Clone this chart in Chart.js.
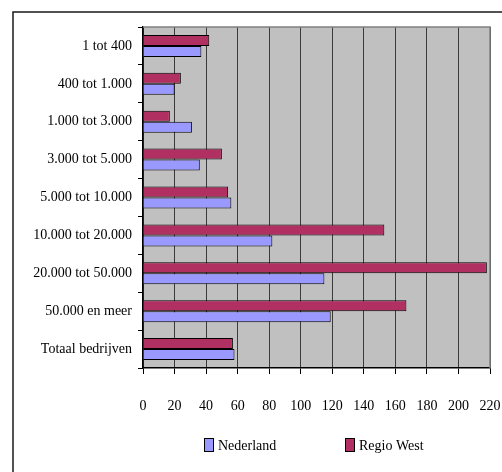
<!DOCTYPE html>
<html>
<head>
<meta charset="utf-8">
<script src="https://cdn.jsdelivr.net/npm/chart.js@4/dist/chart.umd.min.js"></script>
<style>
  html, body { margin: 0; padding: 0; background: #ffffff; overflow: hidden; }
  canvas { display: block; }
</style>
</head>
<body>
<canvas id="chart" width="502" height="472"></canvas>
<script>
// categories, top to bottom
const categories = ['1 tot 400', '400 tot 1.000', '1.000 tot 3.000', '3.000 tot 5.000',
  '5.000 tot 10.000', '10.000 tot 20.000', '20.000 tot 50.000', '50.000 en meer', 'Totaal bedrijven'];
const nederland = [37, 20, 31, 36, 56, 82, 115, 119, 58];
const regioWest = [42, 24, 17, 50, 54, 153, 218, 167, 57];
const xMax = 220;
const xStep = 20;

const FONT = { family: '"Liberation Serif", "Times New Roman", serif', size: 14 };

// grey plot background, frame lines and the legend
const decor = {
  id: 'decor',
  beforeDraw(chart) {
    const { ctx, chartArea: a } = chart;
    ctx.save();
    ctx.fillStyle = '#c0c0c0';
    ctx.fillRect(a.left, a.top, a.right - a.left, a.bottom - a.top);
    ctx.restore();
  },
  afterDatasetsDraw(chart) {
    const { ctx, chartArea: a } = chart;
    ctx.save();
    // top and right edges of plot
    ctx.strokeStyle = '#808080';
    ctx.lineWidth = 1.5;
    ctx.beginPath();
    ctx.moveTo(a.left, a.top);
    ctx.lineTo(a.right, a.top);
    ctx.lineTo(a.right, a.bottom);
    ctx.stroke();
    // outer frame (top + left visible)
    ctx.strokeStyle = '#1a1a1a';
    ctx.lineWidth = 1.5;
    ctx.beginPath();
    ctx.moveTo(13, 480);
    ctx.lineTo(13, 12);
    ctx.lineTo(510, 12);
    ctx.stroke();
    // legend: Nederland, then Regio West
    const items = [
      { ds: chart.data.datasets[1], x: 204 },
      { ds: chart.data.datasets[0], x: 345 }
    ];
    ctx.font = FONT.size + 'px ' + FONT.family;
    ctx.textBaseline = 'middle';
    ctx.textAlign = 'left';
    items.forEach(it => {
      ctx.fillStyle = it.ds.backgroundColor;
      ctx.fillRect(it.x, 438.5, 9, 13);
      ctx.strokeStyle = '#000';
      ctx.lineWidth = 1;
      ctx.strokeRect(it.x + 0.5, 438.5, 9, 13);
      ctx.fillStyle = '#000';
      ctx.fillText(it.ds.label, it.x + 14, 446);
    });
    ctx.restore();
  }
};

new Chart(document.getElementById('chart'), {
  type: 'bar',
  data: {
    labels: categories,
    datasets: [
      {
        label: 'Regio West',
        data: regioWest,
        backgroundColor: '#b03062',
        borderColor: '#000000',
        borderWidth: 1
      },
      {
        label: 'Nederland',
        data: nederland,
        backgroundColor: '#9999ff',
        borderColor: '#000000',
        borderWidth: 1
      }
    ]
  },
  plugins: [decor],
  options: {
    indexAxis: 'y',
    responsive: false,
    animation: false,
    categoryPercentage: 0.58,
    barPercentage: 1.0,
    layout: { padding: { top: 27, right: 12, left: 0, bottom: 44 } },
    plugins: {
      legend: { display: false },
      tooltip: { enabled: false }
    },
    scales: {
      x: {
        min: 0,
        max: xMax,
        afterFit(scale) {
          scale.height = 60;
          // ticks.padding is also added sideways; drop that
          scale.paddingLeft = 0;
          scale.paddingRight = 0;
        },
        ticks: { stepSize: xStep, color: '#000', font: FONT, padding: 24, maxRotation: 0 },
        grid: { color: '#3a3a3a', lineWidth: 1, tickLength: 6, tickColor: '#000' },
        border: { color: '#000', width: 1.5 }
      },
      y: {
        afterFit(scale) { scale.width = 143; },
        ticks: { color: '#000', font: FONT, padding: 6 },
        grid: { drawOnChartArea: false, tickLength: 5, color: '#000', offset: true },
        border: { color: '#000', width: 1.5 }
      }
    }
  }
});
</script>
</body>
</html>
